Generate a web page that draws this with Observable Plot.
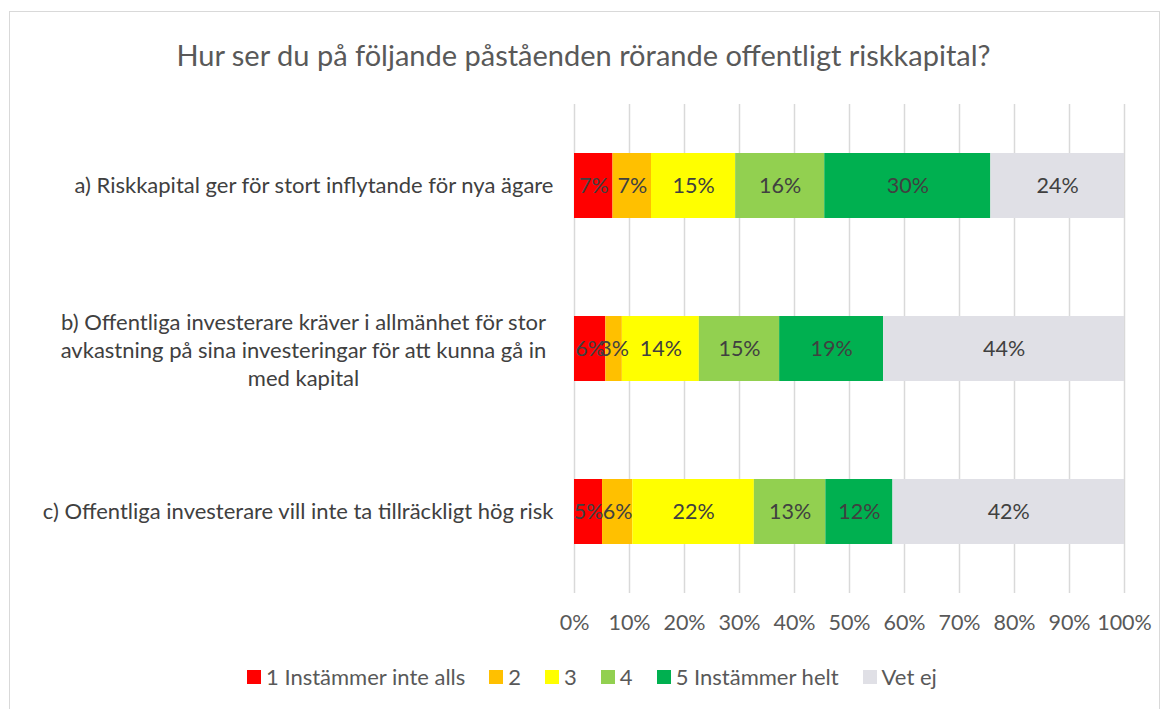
<!DOCTYPE html>
<html><head><meta charset="utf-8">
<script src="https://cdn.jsdelivr.net/npm/d3@7"></script>
<script src="https://cdn.jsdelivr.net/npm/@observablehq/plot@0.6"></script>
<style>
html,body{margin:0;padding:0;background:#fff;font-family:Lato,"Open Sans",sans-serif;}
#frame{position:absolute;left:9px;top:11px;width:1151px;height:720px;border:1px solid #d9d9d9;box-sizing:border-box;}
#title{position:absolute;left:0;top:38px;width:1167px;text-align:center;font-size:29px;color:#595959;line-height:34px;}
#chart{position:absolute;left:0;top:90px;}
#legend{position:absolute;top:664px;left:247px;display:flex;align-items:center;font-size:22px;color:#595959;line-height:26px;white-space:nowrap;}
#legend .item{display:flex;align-items:center;margin-right:24px;}
#legend .sw{width:14px;height:14px;margin-right:5px;}
</style>
</head><body>
<div id="frame"></div>
<div id="title">Hur ser du på följande påståenden rörande offentligt riskkapital?</div>
<div id="chart"></div>
<div id="legend"></div>
<script>
const questions = [
  "a) Riskkapital ger för stort inflytande för nya ägare",
  "b) Offentliga investerare kräver i allmänhet för stor avkastning på sina investeringar för att kunna gå in med kapital",
  "c) Offentliga investerare vill inte ta tillräckligt hög risk"
];
const questionBLines = [
  "b) Offentliga investerare kräver i allmänhet för stor",
  "avkastning på sina investeringar för att kunna gå in",
  "med kapital"
];
const categories = ["1 Instämmer inte alls", "2", "3", "4", "5 Instämmer helt", "Vet ej"];
const colors = ["#FF0000", "#FFC000", "#FFFF00", "#92D050", "#00B050", "#E0E0E6"];
const valuesA = [7.0, 7.0, 15.3, 16.2, 30.2, 24.3];
const valuesB = [5.7, 3.0, 14.0, 14.6, 18.9, 43.8];
const valuesC = [5.1, 5.5, 22.1, 13.0, 12.2, 42.1];
const xTicks = [0, 10, 20, 30, 40, 50, 60, 70, 80, 90, 100];

const series = [valuesA, valuesB, valuesC];
const data = [];
questions.forEach((q, i) => {
  categories.forEach((c, j) => data.push({q, cat: c, value: series[i][j]}));
});

const pct = d => d + "%";
const chart = Plot.plot({
  width: 1167, height: 560,
  marginLeft: 574, marginRight: 43, marginTop: 14, marginBottom: 57,
  style: {fontFamily: "Lato, 'Open Sans', sans-serif", fontSize: "22px", background: "transparent", color: "#595959"},
  x: {domain: [0, 100], axis: null, label: null},
  y: {domain: questions, paddingInner: 0.6, paddingOuter: 0.3, axis: null, label: null},
  color: {domain: categories, range: colors},
  marks: [
    Plot.gridX(xTicks, {stroke: "#d9d9d9", strokeOpacity: 1, strokeWidth: 1.5}),
    Plot.barX(data, {x: "value", y: "q", fill: "cat"}),
    Plot.text(data, Plot.stackX({x: "value", y: "q", z: "cat", text: d => Math.round(d.value) + "%", fill: "#404040", fontSize: 21.5})),
    Plot.axisX({ticks: xTicks, tickFormat: pct, tickSize: 0, tickPadding: 21, fontSize: 21.5, fill: "#595959", label: null}),
    Plot.axisY({ticks: [questions[0], questions[2]], tickSize: 0, tickPadding: 21, fontSize: 22, fill: "#404040", textAnchor: "end", label: null}),
    Plot.axisY({ticks: [questions[1]], tickFormat: () => questionBLines.join("\n"), tickSize: 0, tickPadding: 21, fontSize: 22, fill: "#404040", textAnchor: "middle", lineHeight: 1.27, dx: -250, label: null})
  ]
});
document.getElementById("chart").appendChild(chart);

const legend = document.getElementById("legend");
categories.forEach((c, j) => {
  const it = document.createElement("div");
  it.className = "item";
  it.innerHTML = `<span class="sw" style="background:${colors[j]}"></span><span>${c}</span>`;
  legend.appendChild(it);
});
</script>
</body></html>
